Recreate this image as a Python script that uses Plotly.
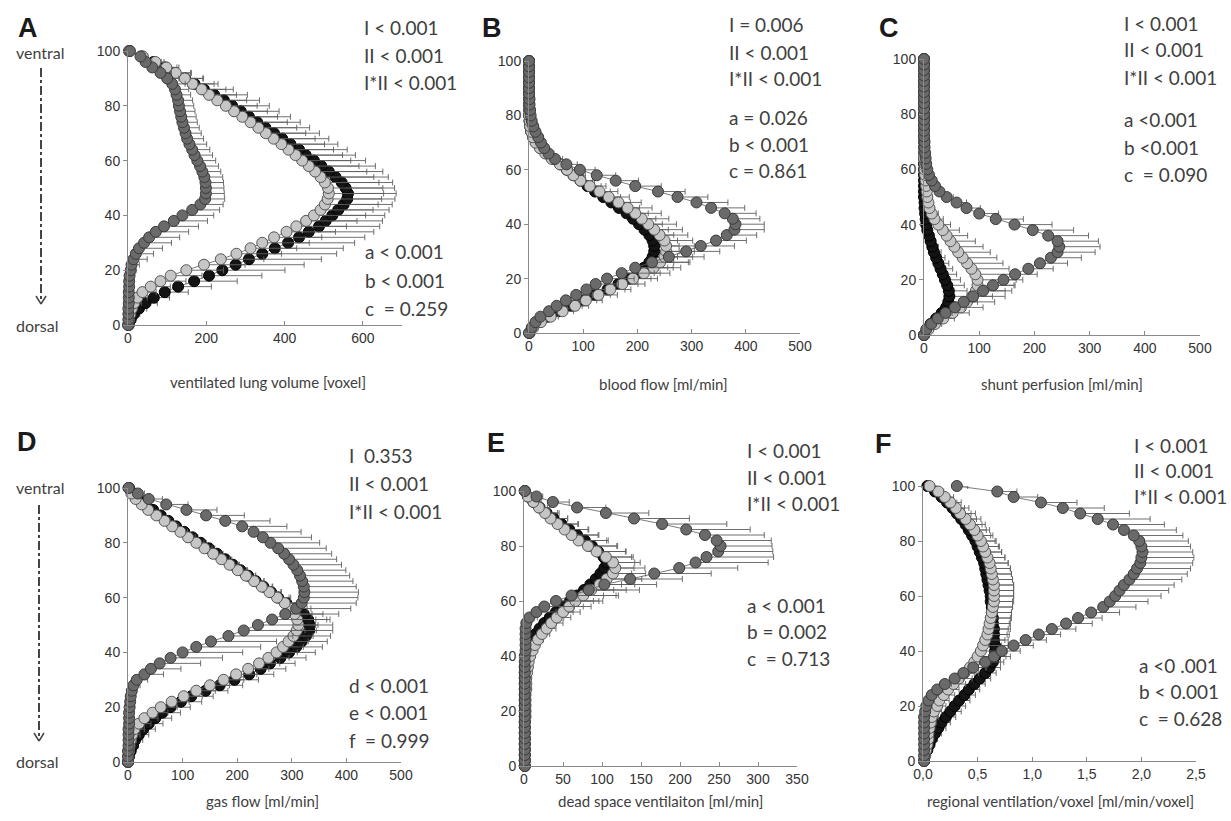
import plotly.graph_objects as go

# ---------------- data ----------------
y_levels = list(range(0, 101, 2))  # ventral-dorsal position (0 = dorsal, 100 = ventral)

# Panel A: ventilated lung volume [voxel]
A_dark = [0,1,1,1,2,2,2,3,3,4, 7,9,14,20,28,41,54,71,92,117, 139,164,185,197,199,199,198,195,190,184,
          177,170,164,157,151,147,143,139,136,133, 130,128,124,120,113,100,83,62,45,32, 5]
A_dark_err = [1,1,2,2,3,3,4,5,6,8, 13,20,35,45,60,70,78,84,88,86, 80,70,58,50,47,46,46,47,47,47,
              47,46,45,44,42,40,39,38,38,38, 38,37,36,35,33,30,28,22,16,10, 3]
A_light = [1,3,6,10,16,24,37,58,83,109, 149,194,237,277,313,343,373,405,430,455, 475,492,503,510,513,511,503,492,478,462,
           445,428,410,392,372,352,333,313,292,271, 250,228,207,188,165,145,122,98,70,38, 3]
A_light_err = [3,5,8,12,18,25,35,50,65,80, 95,105,110,115,118,120,122,125,128,130, 132,134,136,138,140,140,138,136,132,128,
               124,120,115,110,106,102,98,94,90,85, 80,75,70,62,55,48,40,32,22,12, 3]
A_black = [2,7,15,28,45,66,94,128,169,207, 241,275,309,343,375,409,437,462,488,505, 522,537,551,560,562,556,546,530,513,494,
           475,454,437,415,394,373,351,330,309,288, 266,245,220,194,170,146,120,95,65,35, 3]
A_black_err = [5,10,15,20,30,40,60,85,110,135, 160,175,185,190,175,170,168,166,155,145, 134,130,124,122,123,125,130,135,138,138,
               132,127,123,121,119,116,113,110,106,98, 95,91,85,75,60,45,40,30,20,10, 3]

# Panel B: blood flow [ml/min]
B_dark = [0,5,12,21,37,51,68,87,106,123, 144,171,196,227,258,290,317,345,365,379, 381,376,361,336,309,274,238,196,160,125,
          94,69,48,36,28,22,17,12,8,5, 3,2,1,1,0,0,0,0,0,0, 0]
B_dark_err = [0,2,5,10,15,20,25,30,35,42, 50,60,70,70,65,62,62,56,55,55, 53,50,58,62,58,56,50,48,42,35,
              28,20,14,10,7,5,3,2,1,1, 0,0,0,0,0,0,0,0,0,0, 0]
B_light = [1,8,22,40,62,85,105,128,150,172, 192,212,230,242,250,253,253,250,241,231, 220,208,196,182,165,147,130,112,95,82,
           70,57,42,30,20,12,7,4,2,1, 0,0,0,0,0,0,0,0,0,0, 0]
B_light_err = [0,3,8,14,20,25,30,35,38,42, 45,48,50,52,52,52,52,52,52,52, 52,50,48,45,42,38,34,30,26,22,
               18,14,10,7,5,3,2,1,0,0, 0,0,0,0,0,0,0,0,0,0, 0]
B_black = [1,6,18,35,55,78,100,122,145,165, 185,200,212,222,228,231,231,228,222,213, 203,192,180,166,152,137,122,108,95,82,
           70,58,45,33,22,13,8,4,2,1, 0,0,0,0,0,0,0,0,0,0, 0]
B_black_err = [0,2,6,10,15,20,25,28,32,36, 40,42,44,45,46,46,46,46,45,44, 43,42,40,38,35,32,28,25,22,18,
               15,12,9,6,4,3,2,1,0,0, 0,0,0,0,0,0,0,0,0,0, 0]

# Panel C: shunt perfusion [ml/min]
C_dark = [0,4,13,25,39,56,72,89,107,125, 144,165,189,210,230,242,245,242,225,197, 164,130,100,77,59,41,28,20,14,9,
          6,4,3,2,1,1,0,0,0,0, 0,0,0,0,0,0,0,0,0,0, 0]
C_dark_err = [0,2,5,8,12,18,25,35,40,38, 35,40,45,50,55,68,74,74,73,74, 68,50,35,25,18,12,8,6,4,3,
              2,1,1,1,0,0,0,0,0,0, 0,0,0,0,0,0,0,0,0,0, 0]
C_light = [0,8,20,35,52,67,78,87,94,97, 97,93,86,78,70,62,55,48,41,34, 26,19,14,10,8,6,5,4,3,2,
           1,1,0,0,0,0,0,0,0,0, 0,0,0,0,0,0,0,0,0,0, 0]
C_light_err = [0,5,12,20,30,40,50,60,65,68, 70,70,68,65,62,58,52,45,38,30, 22,16,12,8,6,4,3,2,1,1,
               1,0,0,0,0,0,0,0,0,0, 0,0,0,0,0,0,0,0,0,0, 0]
C_black = [0,5,12,22,32,40,44,46,45,42, 38,34,30,26,22,18,15,12,9,6, 4,3,2,1,1,0,0,0,0,0,
           0,0,0,0,0,0,0,0,0,0, 0,0,0,0,0,0,0,0,0,0, 0]
C_black_err = [0,4,10,18,25,30,33,34,33,31, 28,25,22,19,16,13,11,9,7,5, 3,2,1,1,0,0,0,0,0,0,
               0,0,0,0,0,0,0,0,0,0, 0,0,0,0,0,0,0,0,0,0, 0]

# Panel D: gas flow [ml/min]
D_dark = [0,0,0,1,1,1,1,2,2,2, 3,4,5,7,10,16,30,42,58,78, 100,125,152,184,212,238,264,288,308,318,
          322,323,322,319,315,310,303,295,286,275, 261,247,230,209,178,143,107,70,38,18, 1]
D_dark_err = [0,0,0,0,0,1,1,1,1,2, 2,3,5,8,12,20,35,55,75,95, 110,118,120,118,112,105,100,98,100,100,
              99,99,96,93,91,89,88,87,87,88, 90,89,87,82,82,70,56,40,25,12, 2]
D_light = [0,1,2,3,5,8,12,20,30,45, 60,80,102,125,150,175,198,220,240,257, 272,284,294,303,309,312,310,305,298,287,
           273,259,245,231,216,201,186,171,156,140, 125,110,96,81,67,52,37,25,14,6, 1]
D_light_err = [1,2,4,7,10,14,18,22,25,28, 30,32,34,35,36,37,38,38,38,38, 38,37,36,36,36,36,34,32,30,28,
               25,22,20,18,17,16,15,15,14,14, 14,13,13,12,10,9,7,5,4,2, 1]
D_black = [0,2,5,9,13,20,28,38,50,63, 78,97,116,142,168,195,222,243,260,279, 295,308,318,326,332,333,330,322,305,290,
           275,262,248,234,220,206,192,178,163,148, 133,118,103,88,74,60,46,32,20,10, 2]
D_black_err = [1,3,6,10,14,18,22,26,30,33, 36,38,40,41,42,44,45,46,46,47, 48,48,47,45,43,42,40,35,30,25,
               20,18,16,15,14,13,12,12,11,11, 10,10,9,8,7,6,5,4,3,2, 1]

# Panel E: dead space ventilation [ml/min]
E_dark = [1,1,1,1,1,1,1,1,1,1, 1,1,1,1,1,1,1,1,1,1, 1,2,2,2,2,2,3,7,16,26,
          41,61,83,103,136,167,199,220,234,249, 252,247,232,208,177,141,105,68,37,16, 1]
E_dark_err = [0,0,0,0,0,0,0,0,0,0, 0,0,0,0,0,0,0,0,0,0, 1,1,1,1,2,3,5,10,25,38,
              55,60,65,67,67,73,75,93,86,70, 66,70,76,82,83,71,55,37,21,8, 2]
E_light = [1,1,1,1,1,1,1,1,1,2, 2,2,2,2,3,3,3,4,5,6, 8,11,14,18,23,29,35,42,50,58,
           66,76,86,97,106,114,117,114,105,93, 82,70,61,52,43,34,27,19,12,5, 1]
E_light_err = [0,0,0,0,0,0,0,0,0,0, 0,0,0,0,1,1,1,1,1,1, 2,3,5,7,10,12,15,18,22,28,
               35,42,45,45,45,42,38,35,35,38, 38,36,34,30,26,22,18,14,10,5, 2]
E_black = [1,1,1,1,1,1,1,1,1,1, 1,1,1,1,1,1,1,1,1,2, 3,5,8,11,15,20,26,33,41,50,
           59,68,77,85,92,98,103,106,102,95, 87,78,68,58,48,38,29,20,12,5, 1]
E_black_err = [0,0,0,0,0,0,0,0,0,0, 0,0,0,0,0,0,0,0,1,1, 2,3,5,7,9,12,15,18,22,26,
               30,34,38,40,40,40,38,36,36,35, 32,30,28,25,22,18,14,10,7,4, 1]

# Panel F: regional ventilation/voxel [ml/min/voxel]
F_dark = [0.01,0.01,0.01,0.01,0.01,0.01,0.01,0.01,0.01,0.02, 0.03,0.05,0.08,0.13,0.20,0.29,0.37,0.46,0.57,0.65,
          0.72,0.83,0.94,1.06,1.18,1.31,1.42,1.54,1.65,1.71, 1.76,1.80,1.84,1.89,1.93,1.96,1.99,2.00,2.01,2.00,
          1.98,1.93,1.84,1.74,1.60,1.44,1.28,1.08,0.83,0.68, 0.31]
F_dark_err = [0.01,0.01,0.01,0.01,0.01,0.01,0.01,0.01,0.01,0.01, 0.02,0.03,0.04,0.05,0.06,0.08,0.10,0.12,0.14,0.15,
              0.17,0.18,0.19,0.20,0.22,0.24,0.22,0.26,0.30,0.35, 0.42,0.45,0.46,0.48,0.49,0.49,0.48,0.48,0.46,0.45,
              0.45,0.45,0.48,0.47,0.48,0.45,0.38,0.33,0.22,0.18, 0.10]
F_light = [0.01,0.02,0.03,0.04,0.05,0.05,0.06,0.07,0.08,0.10, 0.13,0.15,0.19,0.23,0.28,0.33,0.38,0.43,0.47,0.50,
           0.53,0.55,0.57,0.59,0.60,0.61,0.62,0.63,0.64,0.65, 0.65,0.65,0.65,0.64,0.63,0.62,0.61,0.59,0.57,0.55,
           0.53,0.50,0.47,0.43,0.39,0.34,0.30,0.25,0.20,0.14, 0.06]
F_light_err = [0.01,0.01,0.02,0.02,0.03,0.03,0.04,0.05,0.06,0.07, 0.08,0.09,0.10,0.10,0.11,0.12,0.13,0.14,0.15,0.16,
               0.17,0.17,0.18,0.18,0.18,0.18,0.18,0.18,0.18,0.18, 0.18,0.18,0.18,0.18,0.18,0.18,0.17,0.16,0.15,0.15,
               0.14,0.14,0.14,0.14,0.14,0.14,0.12,0.10,0.08,0.05, 0.02]
F_black = [0.01,0.02,0.04,0.06,0.08,0.11,0.14,0.17,0.21,0.25, 0.29,0.33,0.38,0.42,0.47,0.52,0.57,0.61,0.64,0.66,
           0.66,0.66,0.65,0.65,0.65,0.64,0.64,0.63,0.63,0.62, 0.62,0.61,0.60,0.59,0.58,0.57,0.56,0.54,0.52,0.50,
           0.48,0.45,0.42,0.39,0.35,0.31,0.27,0.22,0.17,0.11, 0.04]
F_black_err = [0.01,0.02,0.03,0.04,0.05,0.06,0.07,0.08,0.09,0.10, 0.10,0.10,0.10,0.10,0.10,0.10,0.10,0.10,0.10,0.10,
               0.11,0.12,0.13,0.14,0.15,0.16,0.17,0.18,0.19,0.20, 0.21,0.22,0.23,0.23,0.23,0.23,0.22,0.21,0.20,0.19,
               0.18,0.17,0.16,0.15,0.14,0.13,0.11,0.09,0.07,0.05, 0.02]

y_ticks = [0, 20, 40, 60, 80, 100]
A_xticks = [0, 200, 400, 600]
BCD_xticks = [0, 100, 200, 300, 400, 500]
E_xticks = [0, 50, 100, 150, 200, 250, 300, 350]
F_xticks = [0, 0.5, 1.0, 1.5, 2.0, 2.5]
F_xticklabels = ["0,0", "0,5", "1,0", "1,5", "2,0", "2,5"]

x_titles = {
    "A": "ventilated lung volume [voxel]",
    "B": "blood flow [ml/min]",
    "C": "shunt perfusion [ml/min]",
    "D": "gas flow [ml/min]",
    "E": "dead space ventilaiton [ml/min]",
    "F": "regional ventilation/voxel [ml/min/voxel]",
}
stats_top = {
    "A": ["I < 0.001", "II < 0.001", "I*II < 0.001"],
    "B": ["I = 0.006", "II < 0.001", "I*II < 0.001"],
    "C": ["I < 0.001", "II < 0.001", "I*II < 0.001"],
    "D": ["I  0.353", "II < 0.001", "I*II < 0.001"],
    "E": ["I < 0.001", "II < 0.001", "I*II < 0.001"],
    "F": ["I < 0.001", "II < 0.001", "I*II < 0.001"],
}
stats_bottom = {
    "A": ["a < 0.001", "b < 0.001", "c  = 0.259"],
    "B": ["a = 0.026", "b < 0.001", "c = 0.861"],
    "C": ["a <0.001", "b <0.001", "c  = 0.090"],
    "D": ["d < 0.001", "e < 0.001", "f  = 0.999"],
    "E": ["a < 0.001", "b = 0.002", "c  = 0.713"],
    "F": ["a <0 .001", "b < 0.001", "c  = 0.628"],
}

series = {
    "A": [(A_black, A_black_err), (A_light, A_light_err), (A_dark, A_dark_err)],
    "B": [(B_black, B_black_err), (B_light, B_light_err), (B_dark, B_dark_err)],
    "C": [(C_black, C_black_err), (C_light, C_light_err), (C_dark, C_dark_err)],
    "D": [(D_black, D_black_err), (D_light, D_light_err), (D_dark, D_dark_err)],
    "E": [(E_black, E_black_err), (E_light, E_light_err), (E_dark, E_dark_err)],
    "F": [(F_black, F_black_err), (F_light, F_light_err), (F_dark, F_dark_err)],
}

# ---------------- layout geometry (pixels) ----------------
W, H = 1231, 821
geom = {  # x0, x1, y_top, y_bottom of plot area
    "A": (128, 402, 51, 325),
    "B": (529, 800, 61, 333),
    "C": (924, 1200, 59, 335),
    "D": (128, 401, 488, 762),
    "E": (524, 797, 491, 766),
    "F": (923, 1196, 486, 761),
}
x_ranges = {"A": [0, 700], "B": [0, 500], "C": [0, 500], "D": [0, 500], "E": [0, 350], "F": [0, 2.5]}
x_tickvals = {"A": A_xticks, "B": BCD_xticks, "C": BCD_xticks, "D": BCD_xticks, "E": E_xticks, "F": F_xticks}
title_pos = {"A": (268, 382), "B": (663, 384), "C": (1062, 384), "D": (262, 801), "E": (660, 801), "F": (1060, 801)}
letter_pos = {"A": (28, 28), "B": (492, 28), "C": (889, 28), "D": (27, 442), "E": (496, 443), "F": (883, 444)}
stats_top_pos = {"A": (362, 27), "B": (727, 25), "C": (1122, 23), "D": (347, 455), "E": (745, 450), "F": (1132, 445)}
stats_bot_pos = {"A": (363, 252), "B": (727, 117), "C": (1122, 120), "D": (347, 685), "E": (745, 605), "F": (1137, 665)}
line_gap = {"A": 28, "B": 27, "C": 27, "D": 28, "E": 27, "F": 26}
gap_bottom = {"A": 28, "B": 27, "C": 27.5, "D": 27.5, "E": 26.5, "F": 26.5}

styles = [
    dict(fill="#141414", edge="#000000"),   # black
    dict(fill="#c6c6c6", edge="#555555"),   # light gray
    dict(fill="#6a6a6a", edge="#3a3a3a"),   # dark gray
]

def px(x):
    return x / W

def py(y):
    return 1 - y / H

TEXT = "#404040"
TEXT_FONT = "Lato, Carlito, 'Open Sans', sans-serif"
TICK_FONT = "'Liberation Sans', Arial, sans-serif"

fig = go.Figure()
annotations = []
shapes = []

for i, key in enumerate(["A", "B", "C", "D", "E", "F"]):
    n = "" if i == 0 else str(i + 1)
    x0, x1, yt, yb = geom[key]
    xa = dict(domain=[px(x0), px(x1)], range=x_ranges[key], showgrid=False, zeroline=False,
              showline=True, linecolor="#8a8a8a", linewidth=1, ticks="inside", ticklen=4,
              tickcolor="#8a8a8a", tickvals=x_tickvals[key], automargin=False,
              tickfont=dict(family=TICK_FONT, size=14, color="#333333"),
              anchor="y" + n, fixedrange=True)
    if key == "F":
        xa["ticktext"] = F_xticklabels
    ya = dict(domain=[py(yb), py(yt)], range=[0, 100], showgrid=False, zeroline=False,
              showline=True, linecolor="#8a8a8a", linewidth=1, ticks="outside", ticklen=4,
              tickcolor="#8a8a8a", tickvals=y_ticks, automargin=False,
              tickfont=dict(family=TICK_FONT, size=14, color="#333333"),
              anchor="x" + n, fixedrange=True)
    fig.update_layout(**{"xaxis" + n: xa, "yaxis" + n: ya})

    for (vals, errs), st in zip(series[key], styles):
        fig.add_trace(go.Scatter(
            x=vals, y=y_levels, xaxis="x" + n, yaxis="y" + n,
            mode="lines+markers", cliponaxis=False, showlegend=False,
            line=dict(color="#5a5a5a", width=0.8),
            marker=dict(size=11, color=st["fill"], line=dict(color=st["edge"], width=1)),
            error_x=dict(type="data", array=errs, arrayminus=[0] * len(errs), symmetric=False,
                         color="#606060", thickness=0.9, width=3),
        ))

    # panel letter
    lx, ly = letter_pos[key]
    annotations.append(dict(x=px(lx), y=py(ly), xref="paper", yref="paper", text="<b>%s</b>" % key,
                            showarrow=False, xanchor="center", yanchor="middle",
                            font=dict(family="'Liberation Sans', Arial, sans-serif", size=27, color="#1a1a1a")))
    # axis title
    tx, ty = title_pos[key]
    annotations.append(dict(x=px(tx), y=py(ty), xref="paper", yref="paper", text=x_titles[key],
                            showarrow=False, xanchor="center", yanchor="middle",
                            font=dict(family=TEXT_FONT, size=15, color=TEXT)))
    # statistics
    sx, sy = stats_top_pos[key]
    for j, t in enumerate(stats_top[key]):
        annotations.append(dict(x=px(sx), y=py(sy + j * line_gap[key]), xref="paper", yref="paper", text=t,
                                showarrow=False, xanchor="left", yanchor="middle",
                                font=dict(family=TEXT_FONT, size=19, color=TEXT)))
    sx, sy = stats_bot_pos[key]
    for j, t in enumerate(stats_bottom[key]):
        annotations.append(dict(x=px(sx), y=py(sy + j * gap_bottom[key]), xref="paper", yref="paper", text=t,
                                showarrow=False, xanchor="left", yanchor="middle",
                                font=dict(family=TEXT_FONT, size=19, color=TEXT)))

# ventral / dorsal orientation labels with dash-dot arrows
for (vy, dy, ax, a_top, a_tip) in [(52, 325, 41, 68, 304), (487, 761, 39, 505, 741)]:
    annotations.append(dict(x=px(40), y=py(vy), xref="paper", yref="paper", text="ventral", showarrow=False,
                            xanchor="center", yanchor="middle", font=dict(family=TEXT_FONT, size=16, color=TEXT)))
    annotations.append(dict(x=px(37), y=py(dy), xref="paper", yref="paper", text="dorsal", showarrow=False,
                            xanchor="center", yanchor="middle", font=dict(family=TEXT_FONT, size=16, color=TEXT)))
    shapes.append(dict(type="line", xref="paper", yref="paper", x0=px(ax), x1=px(ax), y0=py(a_top), y1=py(a_tip - 2),
                       line=dict(color="#444444", width=2, dash="dashdot")))
    shapes.append(dict(type="line", xref="paper", yref="paper", x0=px(ax - 5), x1=px(ax), y0=py(a_tip - 8), y1=py(a_tip),
                       line=dict(color="#444444", width=1.5)))
    shapes.append(dict(type="line", xref="paper", yref="paper", x0=px(ax + 5), x1=px(ax), y0=py(a_tip - 8), y1=py(a_tip),
                       line=dict(color="#444444", width=1.5)))

fig.update_layout(width=W, height=H, autosize=False,
                  margin=dict(l=0, r=0, t=0, b=0, pad=0, autoexpand=False),
                  paper_bgcolor="white", plot_bgcolor="white",
                  annotations=annotations, shapes=shapes, showlegend=False)

# remove the browser's default page margin so the figure sits at the window's top-left corner
fig.write_html("out.html", config={"displayModeBar": False},
               post_script="document.body.style.margin='0';document.body.style.overflow='hidden';")
